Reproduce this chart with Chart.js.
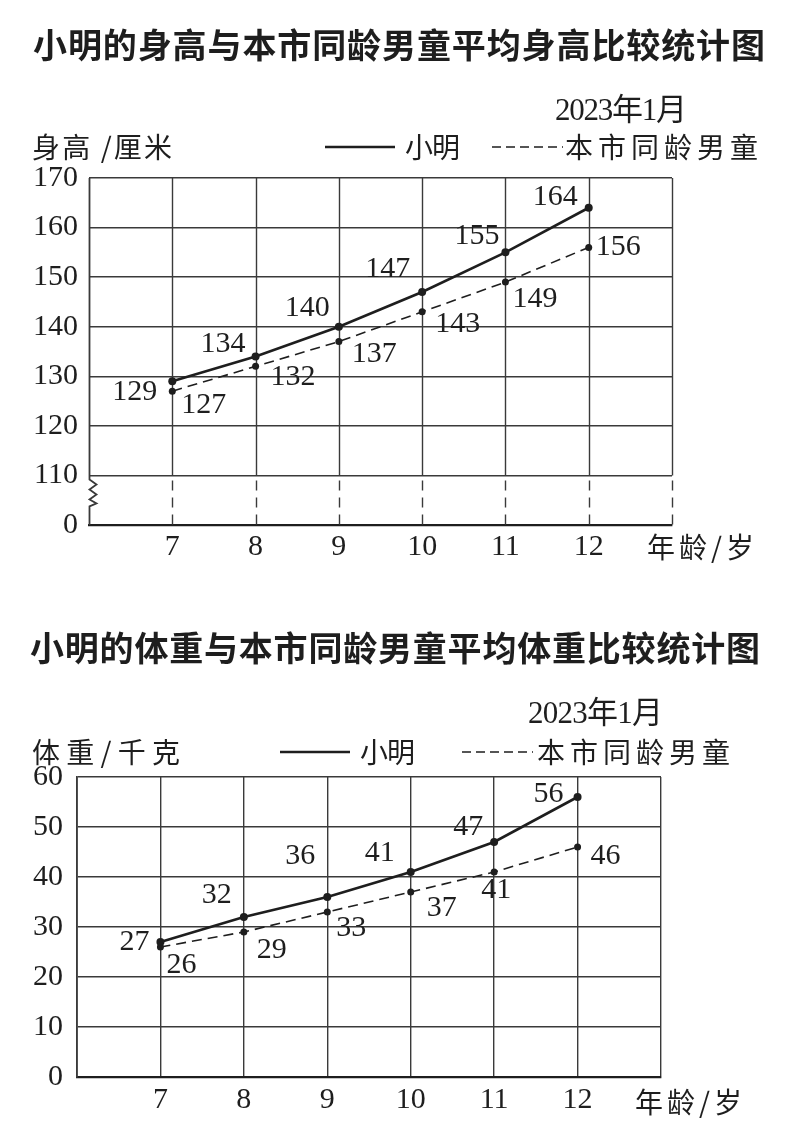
<!DOCTYPE html>
<html>
<head>
<meta charset="utf-8">
<script src="https://cdn.jsdelivr.net/npm/chart.js@4.4.1/dist/chart.umd.min.js"></script>
<style>
  html, body { margin: 0; padding: 0; background: #fff; }
  #wrap { position: relative; width: 806px; height: 1127px; }
  canvas { position: absolute; left: 0; }
</style>
</head>
<body>
<div id="wrap">
  <canvas id="heightChart" width="806" height="580" style="top:0"></canvas>
  <canvas id="weightChart" width="806" height="547" style="top:580px"></canvas>
</div>
<script>
// data
const ages = [7, 8, 9, 10, 11, 12];
const mingHeight = [129, 134, 140, 147, 155, 164];
const cityHeight = [127, 132, 137, 143, 149, 156];
const heightTickLabels = ['0', '110', '120', '130', '140', '150', '160', '170'];
const mingWeight = [27, 32, 36, 41, 47, 56];
const cityWeight = [26, 29, 33, 37, 41, 46];
const weightTickLabels = ['0', '10', '20', '30', '40', '50', '60'];

const INK = '#1e1e1e';
const GRID = '#3a3a3a';
const CJK = '"Noto Sans CJK SC"';
const NUM = '"Liberation Serif", "Noto Sans CJK SC"';

const toPoints = vals => ages.map((a, i) => ({ x: a, y: vals[i] }));

// draws text with characters spread over a given width
function spreadText(ctx, text, left, cy, width) {
  const chars = Array.from(text);
  const widths = chars.map(c => ctx.measureText(c).width);
  const total = widths.reduce((s, w) => s + w, 0);
  const gap = chars.length > 1 ? (width - total) / (chars.length - 1) : 0;
  let x = left;
  ctx.textAlign = 'left';
  ctx.textBaseline = 'middle';
  chars.forEach((c, i) => {
    ctx.fillText(c, x, cy);
    x += widths[i] + gap;
  });
}

// value labels next to the points
const pointLabels = {
  id: 'pointLabels',
  afterDatasetsDraw(chart, args, opts) {
    const ctx = chart.ctx;
    ctx.save();
    ctx.fillStyle = INK;
    ctx.font = '30px ' + NUM;
    ctx.textBaseline = 'middle';
    chart.data.datasets.forEach((ds, di) => {
      const meta = chart.getDatasetMeta(di);
      meta.data.forEach((pt, i) => {
        const [dx, dy, align] = opts.offsets[di][i];
        ctx.textAlign = align;
        ctx.fillText(String(ds.data[i].y), pt.x + dx, pt.y + dy);
      });
    });
    ctx.restore();
  }
};

// title, legend, unit labels
const header = {
  id: 'header',
  afterDraw(chart, args, o) {
    const ctx = chart.ctx;
    ctx.save();
    ctx.fillStyle = INK;
    ctx.font = 'bold 34px ' + CJK;
    spreadText(ctx, o.title, o.titleX, o.titleY, o.titleW);

    ctx.font = '31px ' + NUM;
    spreadText(ctx, '2023年1月', o.dateX, o.dateY, o.dateW);

    ctx.font = '28px ' + CJK;
    spreadText(ctx, o.unit, o.unitX, o.legY, o.unitW);
    spreadText(ctx, '小明', o.mingX, o.legY, 55);
    spreadText(ctx, '本市同龄男童', o.cityX, o.legY, o.cityW);
    spreadText(ctx, '年龄/岁', o.ageX, o.ageY, 107);

    ctx.strokeStyle = INK;
    ctx.lineWidth = 2.5;
    ctx.beginPath();
    ctx.moveTo(o.solid[0], o.legY);
    ctx.lineTo(o.solid[1], o.legY);
    ctx.stroke();
    ctx.lineWidth = 1.5;
    ctx.setLineDash([9, 5]);
    ctx.beginPath();
    ctx.moveTo(o.dash[0], o.legY);
    ctx.lineTo(o.dash[1], o.legY);
    ctx.stroke();
    ctx.restore();
  }
};

// height chart: vertical lines dashed below the axis break, zigzag on the left
const brokenFrame = {
  id: 'brokenFrame',
  beforeDatasetsDraw(chart) {
    const { ctx, chartArea: a, scales: { x, y } } = chart;
    const yb = y.getPixelForValue(110);
    ctx.save();
    ctx.strokeStyle = GRID;
    ctx.lineWidth = 1.4;
    ages.concat([x.max]).forEach(v => {
      const px = Math.round(x.getPixelForValue(v)) + 0.5;
      ctx.setLineDash([]);
      ctx.beginPath();
      ctx.moveTo(px, a.top);
      ctx.lineTo(px, yb);
      ctx.stroke();
      ctx.setLineDash([10, 7]);
      ctx.beginPath();
      ctx.moveTo(px, yb + 5);
      ctx.lineTo(px, a.bottom);
      ctx.stroke();
    });
    ctx.setLineDash([]);
    ctx.lineWidth = 1.8;
    const lx = a.left + 0.5;
    ctx.beginPath();
    ctx.moveTo(lx, a.top);
    ctx.lineTo(lx, yb + 4);
    ctx.lineTo(lx + 7, yb + 9);
    ctx.lineTo(lx, yb + 14);
    ctx.lineTo(lx + 7, yb + 19);
    ctx.lineTo(lx, yb + 24);
    ctx.lineTo(lx + 7, yb + 28);
    ctx.lineTo(lx, yb + 31);
    ctx.lineTo(lx, a.bottom);
    ctx.stroke();
    ctx.restore();
  }
};

function datasets(ming, city) {
  return [
    {
      data: toPoints(ming),
      borderColor: INK, backgroundColor: INK,
      borderWidth: 2.6, pointRadius: 4, pointBorderWidth: 0,
      pointBackgroundColor: INK
    },
    {
      data: toPoints(city),
      borderColor: INK, backgroundColor: INK,
      borderWidth: 1.6, borderDash: [10, 6], pointRadius: 3.5, pointBorderWidth: 0,
      pointBackgroundColor: INK
    }
  ];
}

function makeOptions(cfg) {
  return {
    responsive: false,
    animation: false,
    devicePixelRatio: 1,
    layout: { padding: { top: cfg.top, right: cfg.right, left: 0, bottom: 0 } },
    plugins: {
      legend: { display: false },
      tooltip: { enabled: false },
      pointLabels: { offsets: cfg.offsets },
      header: cfg.header
    },
    scales: {
      x: {
        type: 'linear', min: 6, max: 13,
        afterFit: s => { s.height = cfg.xHeight; },
        ticks: {
          stepSize: 1, color: INK, padding: cfg.xPad,
          font: { family: NUM, size: 30 },
          callback: v => ages.includes(v) ? String(v) : ''
        },
        grid: { display: cfg.xGrid, color: GRID, lineWidth: 1.4, drawTicks: false },
        border: { display: true, color: INK, width: 2.2 }
      },
      y: {
        min: cfg.ymin, max: cfg.ymax,
        afterFit: s => { s.width = cfg.left; },
        ticks: {
          stepSize: 10, color: INK, padding: cfg.yPad,
          font: { family: NUM, size: 30 },
          callback: (v, i) => cfg.tickLabels[i]
        },
        grid: { color: GRID, lineWidth: 1.4, drawTicks: false },
        border: { display: cfg.yBorder, color: GRID, width: 1.8 }
      }
    }
  };
}

new Chart(document.getElementById('heightChart'), {
  type: 'line',
  data: { datasets: datasets(mingHeight, cityHeight) },
  plugins: [brokenFrame, pointLabels, header],
  options: makeOptions({
    top: 178, right: 134, left: 89, xHeight: 55, xPad: 4, yPad: 11,
    ymin: 100, ymax: 170, tickLabels: heightTickLabels, xGrid: false, yBorder: false,
    offsets: [
      [[-15, 11, 'right'], [-10, -12, 'right'], [-9, -19, 'right'], [-12, -23, 'right'], [-6, -16, 'right'], [-11, -11, 'right']],
      [[9, 14, 'left'], [15, 11, 'left'], [13, 13, 'left'], [13, 12, 'left'], [7, 17, 'left'], [7, 0, 'left']]
    ],
    header: {
      title: '小明的身高与本市同龄男童平均身高比较统计图', titleX: 33, titleY: 45, titleW: 732,
      dateX: 555, dateY: 112, dateW: 132,
      unit: '身高 /厘米', unitX: 32, unitW: 140, legY: 147,
      solid: [325, 395], mingX: 405, dash: [492, 563], cityX: 565, cityW: 193,
      ageX: 647, ageY: 547
    }
  })
});

new Chart(document.getElementById('weightChart'), {
  type: 'line',
  data: { datasets: datasets(mingWeight, cityWeight) },
  plugins: [pointLabels, header],
  options: makeOptions({
    top: 197, right: 145, left: 77, xHeight: 50, xPad: 5, yPad: 14,
    ymin: 0, ymax: 60, tickLabels: weightTickLabels, xGrid: true, yBorder: true,
    offsets: [
      [[-11, 0, 'right'], [-12, -22, 'right'], [-12, -41, 'right'], [-16, -19, 'right'], [-11, -15, 'right'], [-14, -3, 'right']],
      [[6, 18, 'left'], [13, 18, 'left'], [9, 16, 'left'], [16, 16, 'left'], [-13, 18, 'left'], [13, 9, 'left']]
    ],
    header: {
      title: '小明的体重与本市同龄男童平均体重比较统计图', titleX: 30, titleY: 68, titleW: 730,
      dateX: 528, dateY: 135, dateW: 135,
      unit: '体重/千克', unitX: 32, unitW: 148, legY: 172,
      solid: [280, 350], mingX: 360, dash: [462, 533], cityX: 537, cityW: 193,
      ageX: 635, ageY: 522
    }
  })
});
</script>
</body>
</html>
